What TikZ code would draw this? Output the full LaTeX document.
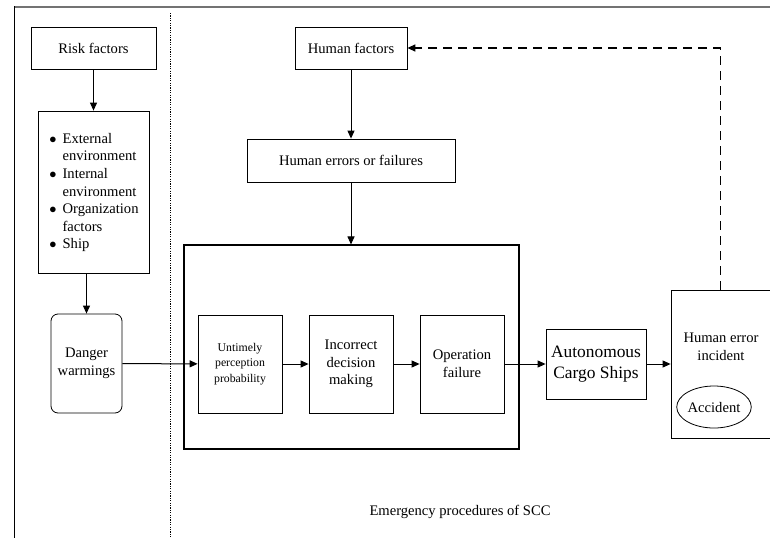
\documentclass[tikz,border=0pt]{standalone}
\usepackage{fontspec}
\setmainfont{Liberation Serif}
\usetikzlibrary{arrows.meta,shapes.geometric}
\begin{document}
\begin{tikzpicture}[x=1pt,y=-1pt,
  bx/.style={draw,line width=0.8pt,inner sep=0pt,align=center,font=\fontsize{14.6}{17.6}\selectfont},
  arr/.style={line width=1pt,-{Triangle[length=8pt,width=7pt]}},
  dsh/.style={line width=1.4pt,dash pattern=on 9pt off 6pt,-{Triangle[length=8pt,width=7pt]}},
  txt/.style={inner sep=0pt,align=center,font=\fontsize{14.6}{17.6}\selectfont}]
\clip (0,0) rectangle (770,538);
\useasboundingbox (0,0) rectangle (770,538);
% frame
\draw[line width=2pt,black!55] (14,7) -- (770,7);
\draw[line width=1pt] (14.5,6) -- (14.5,538);
\draw[line width=0.9pt,dash pattern=on 1.2pt off 1.2pt] (170,13) -- (170,538);
% left column
\node[bx,minimum width=125,minimum height=42] (risk) at (93.5,48) {Risk factors};
\node[bx,minimum width=111,minimum height=162] (list) at (93.5,192) {};
\node[txt,align=left] (listtxt) at (94,192.5) {%
  \begin{tabular}{@{}l@{\hspace{6pt}}l@{}}
  $\bullet$ & External\\
   & environment\\
  $\bullet$ & Internal\\
   & environment\\
  $\bullet$ & Organization\\
   & factors\\
  $\bullet$ & Ship
  \end{tabular}};
\node[bx,rounded corners=7pt,minimum width=71,minimum height=99] (danger) at (86.5,363.5) {Danger\\warmings};
% right part
\node[bx,minimum width=112,minimum height=42] (hf) at (351,48) {Human factors};
\node[bx,minimum width=208,minimum height=43] (herr) at (351,160.5) {Human errors or failures};
\node[draw,line width=1.1pt,minimum width=335,minimum height=204,inner sep=0pt] (big) at (351.5,347) {};
\node[bx,minimum width=84,minimum height=98,font=\fontsize{11.8}{15.5}\selectfont] (unt) at (240,364) {Untimely\\perception\\probability};
\node[bx,minimum width=84,minimum height=98] (inc) at (351,364) {Incorrect\\decision\\making};
\node[bx,minimum width=84,minimum height=98] (op) at (462,364) {Operation\\failure};
\node[bx,minimum width=100,minimum height=70,font=\fontsize{17.4}{21}\selectfont] (acs) at (596,364) {Autonomous\\Cargo Ships};
\node[bx,minimum width=119,minimum height=148] (hei) at (730.5,364) {};
\node[txt] (heitxt) at (721,346.5) {Human error\\incident};
\node[draw,ellipse,line width=0.8pt,minimum width=71,minimum height=42,inner sep=0pt,font=\fontsize{14.6}{17.6}\selectfont] (acc) at (714,407) {Accident};
\node[txt] (emg) at (460,512) {Emergency procedures of SCC};
% connectors
\draw[arr] (risk) -- (list);
\draw[arr] (list.south -| danger.north) -- (danger.north);
\draw[arr] (danger) -- (unt);
\draw[arr] (hf) -- (herr);
\draw[arr] (herr.south) -- (herr.south |- big.north);
\draw[arr] (unt) -- (inc);
\draw[arr] (inc) -- (op);
\draw[arr] (op) -- (acs);
\draw[arr] (acs) -- (hei);
\coordinate (dcorner) at (720.5,48);
\draw[dsh] (dcorner |- hei.north) -- (dcorner) -- (hf.east);
\end{tikzpicture}
\end{document}
